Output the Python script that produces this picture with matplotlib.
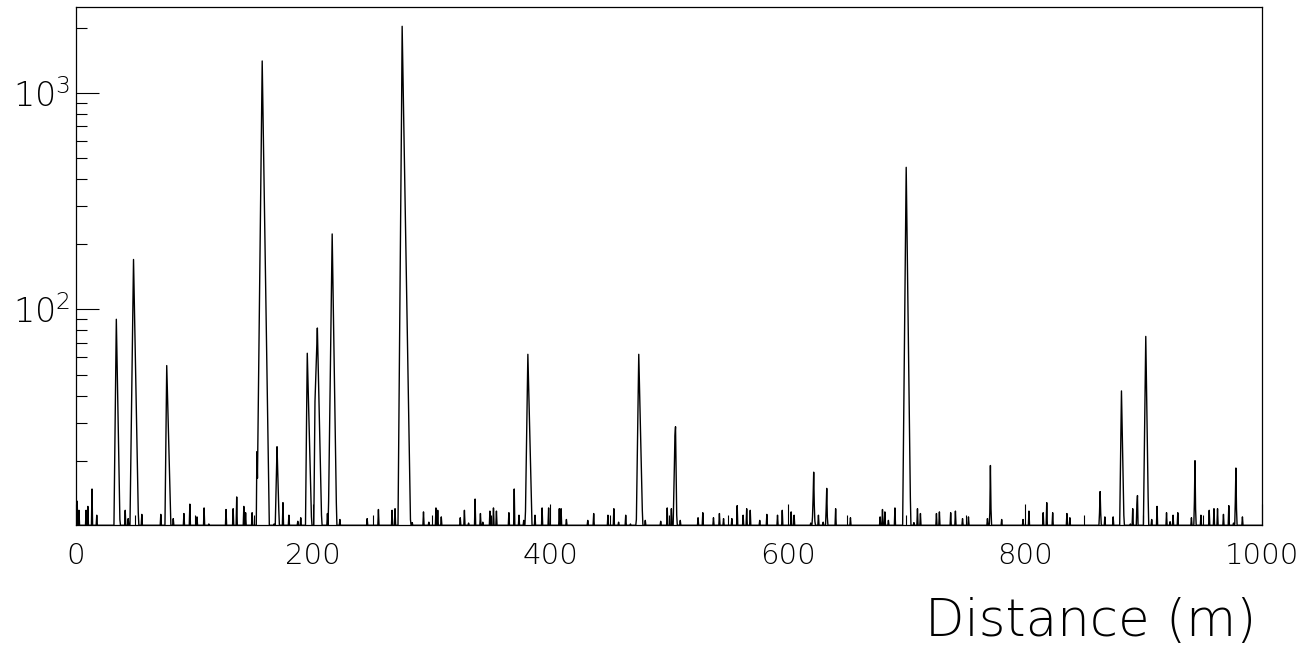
import numpy as np
import matplotlib
matplotlib.use("Agg")
import matplotlib.pyplot as plt
from matplotlib.ticker import FixedLocator, FuncFormatter, NullFormatter, MultipleLocator

plt.rcParams["font.family"] = ["DejaVu Sans"]
plt.rcParams["font.weight"] = "light"
plt.rcParams["mathtext.fontset"] = "custom"
plt.rcParams["mathtext.rm"] = "DejaVu Sans:light"
plt.rcParams["mathtext.it"] = "DejaVu Sans:light"

# histogram: 0.5 m bins, only filled bins listed (others empty)
BIN_WIDTH = 0.5
X_MAX = 1000.0

# isolated single-bin entries
spike_m = [1.0, 2.5, 8.5, 10.0, 13.5, 17.5, 41.5, 44.0, 55.5, 71.5, 82.0, 91.0,
           96.0, 102.0, 108.0, 112.0, 126.5, 132.5, 135.5, 141.5, 143.0, 148.5,
           167.0, 174.5, 179.5, 187.0, 189.5, 212.0, 222.5, 245.5, 255.0, 266.5,
           269.0, 283.5, 293.0, 297.5, 303.5, 305.0, 308.0, 324.0, 327.5, 331.0,
           336.5, 341.0, 343.0, 349.0, 352.0, 354.5, 365.0, 369.5, 373.5, 377.5,
           387.0, 393.0, 398.5, 407.5, 409.0, 413.5, 431.5, 436.5, 448.5, 453.5,
           457.5, 463.5, 467.5, 480.0, 493.0, 498.5, 502.0, 509.5, 524.5, 528.5,
           537.5, 542.5, 546.0, 553.0, 557.5, 562.5, 565.5, 568.5, 576.5, 582.5,
           591.5, 595.5, 603.0, 605.5, 619.5, 626.0, 630.0, 640.5, 653.0, 678.0,
           680.0, 682.0, 685.0, 690.5, 706.5, 709.5, 712.0, 725.5, 728.0, 737.5,
           741.5, 747.5, 752.5, 768.5, 780.5, 798.5, 803.5, 815.5, 818.5, 823.5,
           835.5, 838.0, 867.5, 874.5, 889.0, 891.0, 907.0, 911.5, 919.5, 922.5,
           925.0, 929.0, 940.5, 948.5, 955.5, 959.5, 962.5, 967.5, 972.0, 976.0,
           983.5]
spike_counts = [13.0, 11.8, 11.8, 12.3, 14.8, 11.2, 11.8, 10.8, 11.3, 11.3, 10.8, 11.4,
                12.6, 11.0, 12.1, 10.2, 11.9, 12.0, 13.6, 12.3, 11.5, 11.5,
                10.2, 12.8, 11.2, 10.5, 10.9, 11.4, 10.7, 10.8, 11.9, 11.8,
                12.0, 10.35, 11.6, 10.4, 12.1, 11.8, 11.0, 10.9, 11.8, 10.3,
                13.3, 11.4, 10.4, 11.7, 12.1, 11.7, 11.5, 14.8, 11.2, 10.6,
                11.2, 12.1, 12.1, 12.0, 12.0, 10.7, 10.6, 11.4, 11.2, 12.0,
                10.4, 11.2, 10.2, 10.6, 10.5, 12.1, 12.0, 10.6, 10.9, 11.5,
                10.9, 11.4, 10.8, 10.8, 12.4, 11.2, 12.0, 11.8, 10.6, 11.3,
                11.2, 11.8, 11.6, 11.2, 10.3, 11.2, 10.4, 12.0, 10.9, 11.0,
                11.9, 11.6, 10.6, 12.1, 10.35, 12.0, 11.4, 11.4, 11.6, 11.5,
                11.7, 10.8, 11.0, 10.8, 10.7, 10.7, 11.7, 11.5, 12.8, 11.5,
                11.4, 10.9, 11.0, 11.0, 10.2, 12.0, 10.7, 12.3, 11.5, 10.45,
                11.2, 11.5, 10.9, 11.2, 11.8, 12.0, 12.0, 11.3, 12.4, 10.3,
                11.0]

# multi-bin peaks: first bin centre (m) and consecutive bin contents
peak_start_m = [32.5, 46.0, 75.5, 152.5, 168.5, 194.0, 201.0, 213.0, 272.0,
                379.0, 472.5, 504.0, 621.0, 632.5, 697.5, 770.5, 863.0, 880.5,
                894.5, 900.5, 943.0, 977.5]
peak_counts = [
    [17, 30, 52, 90, 63, 44, 31, 22, 15, 10.7],
    [16, 26, 41, 66, 106, 170, 121, 87, 62, 44, 32, 23, 16, 11.5],
    [18, 31, 55, 43, 34, 26, 21, 16, 12.7],
    [22, 16.6, 29, 50, 88, 153, 266, 464, 805, 1404, 929, 615, 407, 270, 179,
     118, 78, 52, 34, 23, 15],
    [13, 17.5, 23.2, 18.6, 14.8, 11.8],
    [20, 35, 62.7, 49, 38, 30, 23, 18, 14, 11],
    [19.5, 37.5, 45, 55, 67, 82, 62, 46, 35, 26, 20, 15, 11.2],
    [13, 21, 34, 54, 87, 139, 223, 148, 99, 65, 44, 29, 19, 12.8],
    [21, 44, 91, 190, 400, 830, 2030, 1400, 960, 660, 455, 313, 215, 148, 102,
     70, 48, 33, 23, 15.7, 10.7],
    [11.7, 17.5, 26, 41, 62, 48, 37.5, 29, 22.6, 17.5, 13.6],
    [10.7, 16.6, 26, 40, 62, 47, 36, 27, 20.5, 15.6, 11.8],
    [13.5, 18.6, 26, 28.7, 17.8, 11.2],
    [11, 13.5, 17.7, 12.5, 10.5],
    [12, 14.9, 11],
    [19, 36, 67, 127, 240, 453, 274, 166, 100, 61, 37, 22, 13.5],
    [11.5, 19, 12],
    [11.5, 14.4, 11.5],
    [16, 26, 42, 30, 21, 15, 11.2],
    [12.5, 13.8],
    [16.6, 27.5, 45.7, 75, 49, 32, 20.5, 13.5],
    [13, 20, 12],
    [13, 18.5, 12],
]

Y_MIN, Y_MAX = 10.06, 2506.0

# fill the histogram
centers = np.arange(0, X_MAX + BIN_WIDTH / 2, BIN_WIDTH)
counts = np.zeros_like(centers)
for m, c in zip(spike_m, spike_counts):
    counts[int(round(m / BIN_WIDTH))] = c
for m0, vals in zip(peak_start_m, peak_counts):
    i0 = int(round(m0 / BIN_WIDTH))
    counts[i0:i0 + len(vals)] = vals

# empty bins drawn along the bottom of the frame, like ROOT does on log y
y_draw = np.where(counts > 0, counts, Y_MIN)

fig = plt.figure(figsize=(13.13, 6.5), dpi=100)
ax = fig.add_axes([76 / 1313, 124.7 / 650, 1186 / 1313, 518.8 / 650])

ax.plot(centers, y_draw, color="black", linewidth=1.0)

ax.set_yscale("log")
ax.set_xlim(0, X_MAX)
ax.set_ylim(Y_MIN, Y_MAX)

ax.xaxis.set_major_locator(MultipleLocator(200))
ax.xaxis.set_minor_locator(MultipleLocator(50))
ax.xaxis.set_major_formatter(FuncFormatter(lambda v, p: f"{v:.0f}"))

ax.yaxis.set_major_locator(FixedLocator([100, 1000]))
ax.yaxis.set_minor_locator(FixedLocator([20, 30, 40, 50, 60, 70, 80, 90,
                                         200, 300, 400, 500, 600, 700, 800, 900, 2000]))
ax.yaxis.set_major_formatter(FuncFormatter(lambda v, p: f"$10^{{{int(round(np.log10(v)))}}}$"))
ax.yaxis.set_minor_formatter(NullFormatter())

ax.tick_params(axis="x", which="major", direction="in", length=15, width=0.8,
               pad=12, labelsize=21, top=False)
ax.tick_params(axis="x", which="minor", direction="in", length=7.5, width=0.8, top=False)
ax.tick_params(axis="y", which="major", direction="in", length=16.5, width=0.8,
               pad=4, labelsize=24, right=False)
ax.tick_params(axis="y", which="minor", direction="in", length=8, width=0.8, right=False)

for s in ax.spines.values():
    s.set_linewidth(0.9)

fig.text(1256 / 1313, (650 - 622) / 650, "Distance (m)", ha="right", va="center",
         fontsize=37, fontweight="light")

fig.savefig("out.png", dpi=100)
